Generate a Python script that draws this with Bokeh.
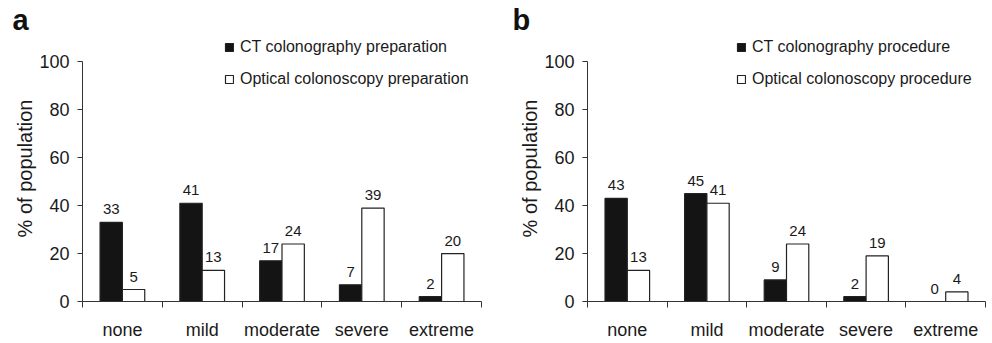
from bokeh.plotting import figure
from bokeh.layouts import row
from bokeh.models import (Range1d, FixedTicker, Legend, LegendItem,
                          ColumnDataSource, Title)
from bokeh.core.properties import value
from bokeh.embed import file_html
from bokeh.resources import INLINE

categories = ["none", "mild", "moderate", "severe", "extreme"]
ct_preparation = [33, 41, 17, 7, 2]
oc_preparation = [5, 13, 24, 39, 20]
ct_procedure = [43, 45, 9, 2, 0]
oc_procedure = [13, 41, 24, 19, 4]
y_ticks = [0, 20, 40, 60, 80, 100]

FONT = "Liberation Sans"
TXT = "#1a1a1a"
AX = "#333333"


def panel(letter, ct_vals, oc_vals, ct_name, oc_name, bl, br, leg_x, letter_x):
    p = figure(width=496, height=343, output_backend="svg", toolbar_location=None,
               x_range=Range1d(0, len(categories)), y_range=Range1d(0, 111),
               min_border_left=bl, min_border_right=br,
               min_border_top=35, min_border_bottom=42)
    p.outline_line_color = None
    p.xgrid.visible = False
    p.ygrid.visible = False
    p.background_fill_color = "white"
    p.border_fill_color = "white"

    n = len(categories)
    centers = [i + 0.5 for i in range(n)]
    w = 0.28
    src_ct = ColumnDataSource(dict(x=[c - w / 2 for c in centers], v=ct_vals,
                                   t=[str(v) for v in ct_vals]))
    src_oc = ColumnDataSource(dict(x=[c + w / 2 for c in centers], v=oc_vals,
                                   t=[str(v) for v in oc_vals]))
    r1 = p.vbar(x="x", top="v", bottom=0, width=w, source=src_ct,
                fill_color="#141414", line_color="#222222", line_width=1.2)
    r2 = p.vbar(x="x", top="v", bottom=0, width=w, source=src_oc,
                fill_color="white", line_color="#222222", line_width=1.2)
    for s in (src_ct, src_oc):
        p.text(x="x", y="v", text="t", source=s, text_align="center",
               text_baseline="bottom", y_offset=-8, text_font=value(FONT),
               text_font_size="15px", text_color=TXT)

    # axes
    xa = p.xaxis[0]
    xa.ticker = FixedTicker(ticks=centers, minor_ticks=list(range(n + 1)))
    xa.major_label_overrides = {c: lab for c, lab in zip(centers, categories)}
    xa.major_tick_out = 0
    xa.major_tick_in = 0
    xa.minor_tick_out = 6
    xa.minor_tick_in = 0
    xa.minor_tick_line_color = AX
    xa.axis_line_color = AX
    xa.major_label_text_font = FONT
    xa.major_label_text_font_size = "18px"
    xa.major_label_text_color = TXT
    xa.major_label_standoff = 12

    ya = p.yaxis[0]
    ya.bounds = (0, 100)
    ya.ticker = FixedTicker(ticks=y_ticks)
    ya.minor_tick_out = 0
    ya.minor_tick_in = 0
    ya.major_tick_out = 5
    ya.major_tick_in = 0
    ya.major_tick_line_color = AX
    ya.axis_line_color = AX
    ya.major_label_text_font = FONT
    ya.major_label_text_font_size = "18px"
    ya.major_label_text_color = TXT
    ya.major_label_standoff = 8
    ya.axis_label = "% of population"
    ya.axis_label_text_font = FONT
    ya.axis_label_text_font_size = "20px"
    ya.axis_label_text_font_style = "normal"
    ya.axis_label_text_color = TXT
    ya.axis_label_standoff = 0

    p.title = Title(text=letter, align="left", offset=-(bl - letter_x),
                    text_font=FONT, text_font_size="29px",
                    text_font_style="bold", text_color="#111111", standoff=0)

    leg = Legend(items=[LegendItem(label=ct_name, renderers=[r1]),
                        LegendItem(label=oc_name, renderers=[r2])],
                 location=(leg_x, 212), orientation="vertical",
                 padding=0, margin=0, spacing=12, glyph_width=10, glyph_height=10,
                 label_height=20, label_standoff=6,
                 label_text_font=FONT, label_text_font_size="16px",
                 label_text_color=TXT, border_line_alpha=0,
                 background_fill_alpha=0)
    p.add_layout(leg, "center")
    return p


pa = panel("a", ct_preparation, oc_preparation, "CT colonography preparation",
           "Optical colonoscopy preparation", 82, 15, 142, 12)
pb = panel("b", ct_procedure, oc_procedure, "CT colonography procedure",
           "Optical colonoscopy procedure", 91, 7, 149, 16)

layout = row(pa, pb)
open("out.html", "w").write(file_html(layout, INLINE))
